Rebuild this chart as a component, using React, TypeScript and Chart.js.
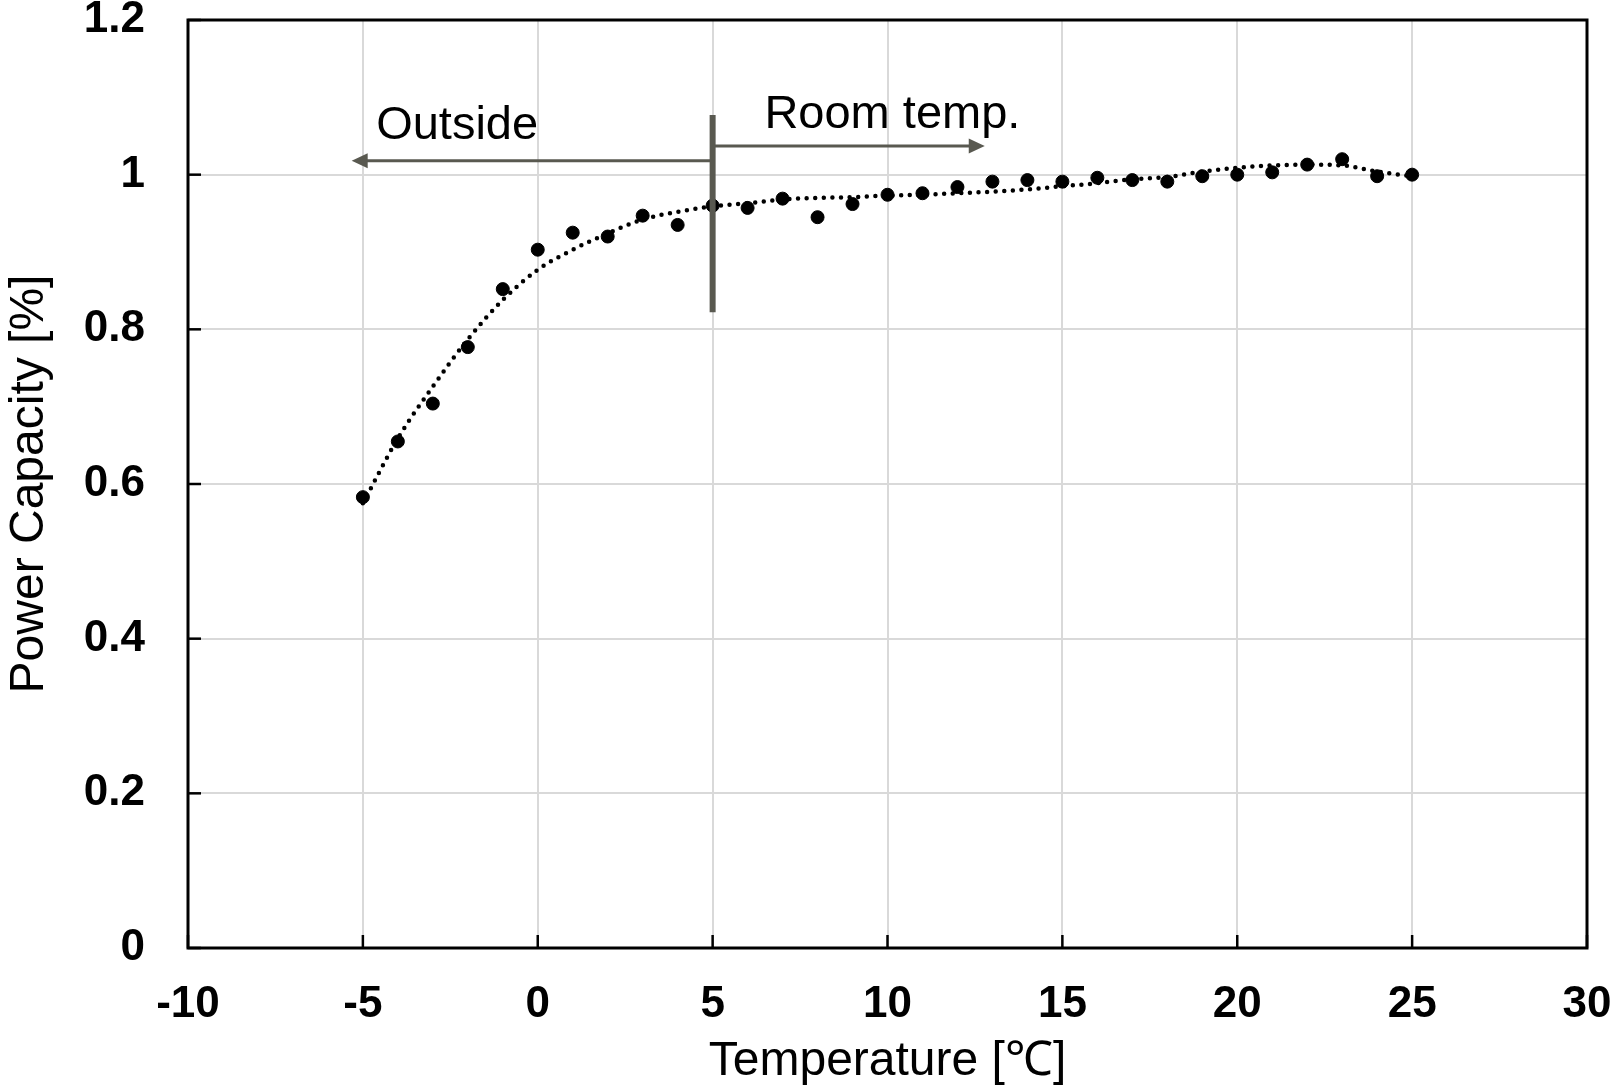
import React, { useEffect, useRef } from "react";
import { Chart, registerables } from "chart.js";

Chart.register(...registerables);

// ---- data ----
const temperatures = [-5, -4, -3, -2, -1, 0, 1, 2, 3, 4, 5, 6, 7, 8, 9, 10, 11, 12, 13, 14, 15, 16, 17, 18, 19, 20, 21, 22, 23, 24, 25];
const powerCapacity = [0.583, 0.655, 0.704, 0.777, 0.852, 0.903, 0.925, 0.92, 0.947, 0.935, 0.96, 0.957, 0.969, 0.945, 0.962, 0.974, 0.976, 0.984, 0.991, 0.993, 0.991, 0.996, 0.993, 0.991, 0.998, 1.0, 1.003, 1.013, 1.02, 0.998, 1.0];
const trendCapacity = [0.575, 0.659, 0.726, 0.787, 0.838, 0.877, 0.903, 0.924, 0.942, 0.952, 0.959, 0.963, 0.968, 0.97, 0.971, 0.973, 0.974, 0.976, 0.978, 0.981, 0.985, 0.989, 0.994, 0.997, 1.004, 1.009, 1.012, 1.013, 1.012, 1.004, 0.998];
const xTickValues = [-10, -5, 0, 5, 10, 15, 20, 25, 30];
const yTickValues = [0, 0.2, 0.4, 0.6, 0.8, 1.0, 1.2];

// annotation values (data units)
const dividerX = 5;
const dividerYRange = [0.822, 1.077];
const outsideArrow = { fromX: 5, toX: -5.32, y: 1.018 };
const roomArrow = { fromX: 5, toX: 12.78, y: 1.037 };
const outsideLabel = { text: "Outside", x: -4.62, y: 1.046 };
const roomLabel = { text: "Room temp.", x: 6.48, y: 1.06 };

const xTitle = "Temperature [\u2103]";
const yTitle = "Power Capacity [%]";

const FONT = "'Liberation Sans', Arial, Helvetica, sans-serif";
const ANNOT_COLOR = "#595950";

const decorPlugin = {
  id: "decor",
  afterDatasetsDraw(chart: any) {
    const { ctx, chartArea, scales } = chart;
    const xs = scales.x;
    const ys = scales.y;
    ctx.save();
    // inward ticks
    ctx.strokeStyle = "#000";
    ctx.lineWidth = 2.5;
    ctx.lineCap = "butt";
    xTickValues.forEach((v) => {
      const px = xs.getPixelForValue(v);
      ctx.beginPath();
      ctx.moveTo(px, chartArea.bottom);
      ctx.lineTo(px, chartArea.bottom - 13);
      ctx.stroke();
    });
    yTickValues.forEach((v) => {
      const py = ys.getPixelForValue(v);
      ctx.beginPath();
      ctx.moveTo(chartArea.left, py);
      ctx.lineTo(chartArea.left + 13, py);
      ctx.stroke();
    });
    // frame
    ctx.lineWidth = 3;
    ctx.lineJoin = "miter";
    ctx.strokeRect(chartArea.left, chartArea.top, chartArea.right - chartArea.left, chartArea.bottom - chartArea.top);

    // arrows
    const drawArrow = (a: { fromX: number; toX: number; y: number }) => {
      const x0 = xs.getPixelForValue(a.fromX);
      const x1 = xs.getPixelForValue(a.toX);
      const py = ys.getPixelForValue(a.y);
      const dir = x1 > x0 ? 1 : -1;
      const headLen = 16;
      const headHalf = 7.5;
      ctx.strokeStyle = ANNOT_COLOR;
      ctx.fillStyle = ANNOT_COLOR;
      ctx.lineWidth = 3;
      ctx.beginPath();
      ctx.moveTo(x0, py);
      ctx.lineTo(x1 - dir * headLen * 0.8, py);
      ctx.stroke();
      ctx.beginPath();
      ctx.moveTo(x1, py);
      ctx.lineTo(x1 - dir * headLen, py - headHalf);
      ctx.lineTo(x1 - dir * headLen, py + headHalf);
      ctx.closePath();
      ctx.fill();
    };
    drawArrow(outsideArrow);
    drawArrow(roomArrow);

    // divider
    const dx = xs.getPixelForValue(dividerX);
    ctx.strokeStyle = ANNOT_COLOR;
    ctx.lineWidth = 6;
    ctx.beginPath();
    ctx.moveTo(dx, ys.getPixelForValue(dividerYRange[0]));
    ctx.lineTo(dx, ys.getPixelForValue(dividerYRange[1]));
    ctx.stroke();

    // labels
    ctx.fillStyle = "#000";
    ctx.font = `47px ${FONT}`;
    ctx.textAlign = "left";
    ctx.textBaseline = "alphabetic";
    [outsideLabel, roomLabel].forEach((l) => {
      ctx.fillText(l.text, xs.getPixelForValue(l.x), ys.getPixelForValue(l.y));
    });
    ctx.restore();
  },
};

export default function App() {
  const canvasRef = useRef<HTMLCanvasElement | null>(null);

  useEffect(() => {
    const canvas = canvasRef.current;
    if (!canvas) return;
    const chart = new Chart(canvas, {
      type: "scatter",
      data: {
        datasets: [
          {
            label: "Power capacity",
            data: temperatures.map((t, i) => ({ x: t, y: powerCapacity[i] })),
            backgroundColor: "#000",
            borderColor: "#000",
            pointRadius: 6.5,
            pointHoverRadius: 6.5,
            showLine: false,
          },
          {
            label: "Trend",
            data: temperatures.map((t, i) => ({ x: t, y: trendCapacity[i] })),
            showLine: true,
            borderColor: "#000",
            borderWidth: 4.5,
            borderDash: [0, 8.6],
            borderCapStyle: "round",
            cubicInterpolationMode: "monotone",
            pointRadius: 0,
            pointHoverRadius: 0,
            fill: false,
          } as any,
        ],
      },
      options: {
        responsive: false,
        maintainAspectRatio: false,
        animation: false,
        devicePixelRatio: 1,
        layout: { padding: { top: 20, right: 27, left: 0, bottom: 0 } },
        plugins: {
          legend: { display: false },
          tooltip: { enabled: false },
        },
        scales: {
          x: {
            type: "linear",
            min: -10,
            max: 30,
            afterBuildTicks: (scale: any) => {
              scale.ticks = xTickValues.map((v) => ({ value: v }));
            },
            ticks: {
              callback: (v: any) => String(v),
              color: "#000",
              font: { family: FONT, size: 44, weight: "bold", lineHeight: 1.2 },
              padding: 30,
              maxRotation: 0,
              autoSkip: false,
            },
            grid: { color: "#d9d9d9", lineWidth: 2, drawTicks: false },
            border: { display: false },
            title: {
              display: true,
              text: xTitle,
              color: "#000",
              font: { family: FONT, size: 48, lineHeight: 1.2 },
              padding: { top: 0, bottom: 0 },
            },
            afterFit: (scale: any) => {
              scale.height = 143;
              scale.paddingLeft = 0;
              scale.paddingRight = 0;
            },
          },
          y: {
            type: "linear",
            min: 0,
            max: 1.2,
            afterBuildTicks: (scale: any) => {
              scale.ticks = yTickValues.map((v) => ({ value: v }));
            },
            ticks: {
              callback: (v: any) => String(Math.round(Number(v) * 10) / 10),
              color: "#000",
              font: { family: FONT, size: 44, weight: "bold", lineHeight: 1.2 },
              padding: 43,
              autoSkip: false,
            },
            grid: { color: "#d9d9d9", lineWidth: 2, drawTicks: false },
            border: { display: false },
            title: {
              display: true,
              text: yTitle,
              color: "#000",
              font: { family: FONT, size: 48, lineHeight: 1.2 },
              padding: { top: 1, bottom: 0 },
            },
            afterFit: (scale: any) => {
              scale.width = 188;
              scale.paddingTop = 0;
              scale.paddingBottom = 0;
            },
          },
        },
      } as any,
      plugins: [decorPlugin],
    });
    return () => chart.destroy();
  }, []);

  return (
    <div style={{ position: "absolute", left: 0, top: 0, width: 1614, height: 1091, background: "#fff" }}>
      <canvas ref={canvasRef} width={1614} height={1091} style={{ display: "block", width: 1614, height: 1091 }} />
    </div>
  );
}
